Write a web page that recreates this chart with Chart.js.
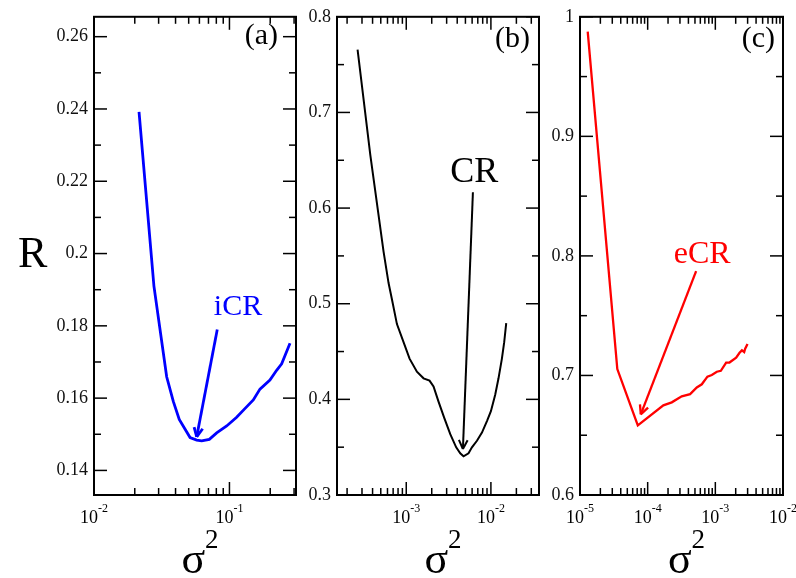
<!DOCTYPE html>
<html>
<head>
<meta charset="utf-8">
<script src="https://cdn.jsdelivr.net/npm/chart.js@4.4.1/dist/chart.umd.min.js"></script>
<style>
html, body { margin: 0; padding: 0; background: #fff; }
#wrap { position: relative; width: 796px; height: 578px; overflow: hidden; }
canvas { position: absolute; top: 0; }
</style>
</head>
<body>
<div id="wrap">
  <canvas id="cA" width="300" height="578" style="left:0px"></canvas>
  <canvas id="cB" width="240" height="578" style="left:300px"></canvas>
  <canvas id="cC" width="256" height="578" style="left:540px"></canvas>
</div>
<script>
// (a) iCR
const sigmaA = [0.0215, 0.0277, 0.0344, 0.0385, 0.0426, 0.0512, 0.0573, 0.0624, 0.0710, 0.0805,
                0.0954, 0.113, 0.130, 0.150, 0.168, 0.199, 0.223, 0.243, 0.280];
const rA = [0.2392, 0.1910, 0.1659, 0.1591, 0.1541, 0.1491, 0.1484, 0.1482, 0.1486, 0.1504,
            0.1523, 0.1547, 0.1571, 0.1595, 0.1625, 0.1650, 0.1677, 0.1695, 0.1752];

// (b) CR
const sigmaB = [2.66e-4, 3.76e-4, 5.40e-4, 6.18e-4, 6.78e-4, 7.76e-4, 9.29e-4, 1.094e-3, 1.336e-3, 1.60e-3,
                1.883e-3, 2.10e-3, 2.40e-3, 2.81e-3, 3.31e-3, 3.89e-3, 4.34e-3, 4.75e-3, 5.44e-3, 5.97e-3,
                6.84e-3, 7.84e-3, 8.98e-3, 1.0e-2, 1.124e-2, 1.23e-2, 1.349e-2, 1.436e-2, 1.517e-2];
const rB = [0.7657, 0.6557, 0.5543, 0.5216, 0.5044, 0.4787, 0.4598, 0.4426, 0.4289, 0.4220,
            0.4196, 0.4134, 0.3979, 0.3807, 0.3636, 0.3498, 0.3436, 0.3405, 0.3436, 0.3498,
            0.3567, 0.3653, 0.3773, 0.3876, 0.4048, 0.4220, 0.4426, 0.4598, 0.4797];

// (c) eCR
const sigmaC = [1.30e-5, 3.56e-5, 7.15e-5, 1.706e-4, 2.27e-4, 3.19e-4, 4.24e-4, 5.32e-4, 6.31e-4, 7.64e-4,
                8.87e-4, 1.052e-3, 1.206e-3, 1.445e-3, 1.619e-3, 2.03e-3, 2.28e-3, 2.47e-3, 2.67e-3, 2.76e-3, 2.99e-3];
const rC = [0.9876, 0.7053, 0.6583, 0.6750, 0.6775, 0.6825, 0.6844, 0.6899, 0.6926, 0.6990,
            0.7004, 0.7031, 0.7039, 0.7108, 0.7108, 0.7149, 0.7190, 0.7210, 0.7196, 0.7223, 0.7264];

// y tick labels
const yTicksA = [0.14, 0.16, 0.18, 0.2, 0.22, 0.24, 0.26];
const yTicksB = [0.3, 0.4, 0.5, 0.6, 0.7, 0.8];
const yTicksC = [0.6, 0.7, 0.8, 0.9, 1];

// annotations: [sigma^2, R] of label, arrow tail, arrow tip
const noteA = ['iCR', [0.1156, 0.1831], [0.0813, 0.1790], [0.0573, 0.1493]];
const noteB = ['CR', [6.35e-3, 0.6268], [6.13e-3, 0.6165], [4.67e-3, 0.3481]];
const noteC = ['eCR', [6.38e-4, 0.7938], [5.20e-4, 0.7872], [7.91e-5, 0.6674]];

const SERIF = "'Liberation Serif', 'Times New Roman', serif";

function deco(p) {
  return {
    id: 'deco',
    afterDraw(chart) {
      const ctx = chart.ctx;
      const a = chart.chartArea;
      const x = chart.scales.x, y = chart.scales.y;
      ctx.save();
      ctx.strokeStyle = '#000';
      ctx.fillStyle = '#000';
      const line = (x1, y1, x2, y2) => { ctx.beginPath(); ctx.moveTo(x1, y1); ctx.lineTo(x2, y2); ctx.stroke(); };

      // y ticks, major + minor, both sides, inward
      ctx.lineWidth = 1.5;
      p.yTicks.forEach((v, i) => {
        const py = y.getPixelForValue(v);
        line(a.left, py, a.left + 13, py);
        line(a.right, py, a.right - 13, py);
        if (i > 0) {
          const pm = y.getPixelForValue((v + p.yTicks[i - 1]) / 2);
          line(a.left, pm, a.left + 7, pm);
          line(a.right, pm, a.right - 7, pm);
        }
      });

      // log x ticks and labels
      const lo = Math.floor(Math.log10(x.min)), hi = Math.ceil(Math.log10(x.max));
      for (let d = lo; d <= hi; d++) {
        for (let k = 1; k <= 9; k++) {
          const v = k * Math.pow(10, d);
          if (v < x.min * 0.999 || v > x.max * 1.001) continue;
          const px = x.getPixelForValue(v);
          const len = k === 1 ? 13 : 7;
          line(px, a.bottom, px, a.bottom - len);
          line(px, a.top, px, a.top + len);
          if (k === 1) {
            ctx.font = '18px ' + SERIF;
            const w1 = ctx.measureText('10').width;
            ctx.font = '12px ' + SERIF;
            const ex = String(d);
            const w2 = ctx.measureText(ex).width;
            const s = px - (w1 + w2) / 2;
            ctx.textAlign = 'left';
            ctx.textBaseline = 'alphabetic';
            ctx.font = '18px ' + SERIF;
            ctx.fillText('10', s, 523);
            ctx.font = '12px ' + SERIF;
            ctx.fillText(ex, s + w1, 512);
          }
        }
      }

      // frame
      ctx.lineWidth = 2;
      ctx.strokeRect(a.left, a.top, a.right - a.left, a.bottom - a.top);

      // x title sigma^2
      ctx.textAlign = 'left';
      ctx.font = '44px ' + SERIF;
      const ws = ctx.measureText('σ').width;
      ctx.font = '27px ' + SERIF;
      const w2 = ctx.measureText('2').width;
      const sx = (a.left + a.right) / 2 + 5 - (ws + w2) / 2;
      ctx.font = '44px ' + SERIF;
      ctx.fillText('σ', sx, 573);
      ctx.font = '27px ' + SERIF;
      ctx.fillText('2', sx + ws, 548);

      // y title
      if (p.yTitle) {
        ctx.font = '44px ' + SERIF;
        ctx.fillText(p.yTitle, 18, 267);
      }

      // panel label
      ctx.font = '30px ' + SERIF;
      ctx.textAlign = 'right';
      ctx.fillText(p.label, a.right - p.labelDx, p.labelY);

      // annotation text + arrow
      const n = p.note;
      ctx.fillStyle = p.color;
      ctx.strokeStyle = p.color;
      ctx.textAlign = 'center';
      ctx.font = p.noteSize + 'px ' + SERIF;
      ctx.fillText(n[0], x.getPixelForValue(n[1][0]), y.getPixelForValue(n[1][1]));
      const x1 = x.getPixelForValue(n[2][0]), y1 = y.getPixelForValue(n[2][1]);
      const x2 = x.getPixelForValue(n[3][0]), y2 = y.getPixelForValue(n[3][1]);
      ctx.lineWidth = p.width;
      line(x1, y1, x2, y2);
      const ang = Math.atan2(y1 - y2, x1 - x2);
      [-0.45, 0.45].forEach(da => {
        line(x2, y2, x2 + 10 * Math.cos(ang + da), y2 + 10 * Math.sin(ang + da));
      });
      ctx.restore();
    }
  };
}

function makePanel(id, sig, r, opt) {
  new Chart(document.getElementById(id), {
    type: 'line',
    data: {
      datasets: [{
        data: sig.map((s, i) => ({ x: s, y: r[i] })),
        borderColor: opt.color,
        borderWidth: opt.width,
        pointRadius: 0,
        tension: 0,
        fill: false
      }]
    },
    options: {
      responsive: false,
      animation: false,
      layout: { padding: { top: 10, right: opt.padRight, left: 0, bottom: 0 } },
      plugins: { legend: { display: false }, tooltip: { enabled: false } },
      scales: {
        x: {
          type: 'logarithmic',
          min: opt.xMin,
          max: opt.xMax,
          grid: { display: false, drawTicks: false },
          border: { display: false },
          ticks: { display: false },
          afterFit: s => { s.height = 83; }
        },
        y: {
          min: opt.yMin,
          max: opt.yMax,
          grid: { display: false, drawTicks: false },
          border: { display: false },
          afterBuildTicks: s => { s.ticks = opt.yTicks.map(v => ({ value: v })); },
          ticks: {
            autoSkip: false,
            padding: 6,
            color: '#111',
            font: { family: SERIF, size: 18 },
            callback: v => String(+v.toFixed(2))
          },
          afterFit: s => { s.width = opt.axisW; }
        }
      }
    },
    plugins: [deco(opt)]
  });
}

makePanel('cA', sigmaA, rA, {
  color: '#0000ff', width: 2.8, xMin: 0.01, xMax: 0.31, yMin: 0.1332, yMax: 0.2655,
  yTicks: yTicksA, axisW: 94, padRight: 4, label: '(a)', labelDx: 18, labelY: 44,
  note: noteA, noteSize: 30, yTitle: 'R'
});
makePanel('cB', sigmaB, rB, {
  color: '#000000', width: 2, xMin: 1.52e-4, xMax: 0.037, yMin: 0.3, yMax: 0.8,
  yTicks: yTicksB, axisW: 37, padRight: 1, label: '(b)', labelDx: 9, labelY: 47,
  note: noteB, noteSize: 36
});
makePanel('cC', sigmaC, rC, {
  color: '#ff0000', width: 2.3, xMin: 1e-5, xMax: 1e-2, yMin: 0.6, yMax: 1.0,
  yTicks: yTicksC, axisW: 40, padRight: 13, label: '(c)', labelDx: 8, labelY: 47,
  note: noteC, noteSize: 32
});
</script>
</body>
</html>
